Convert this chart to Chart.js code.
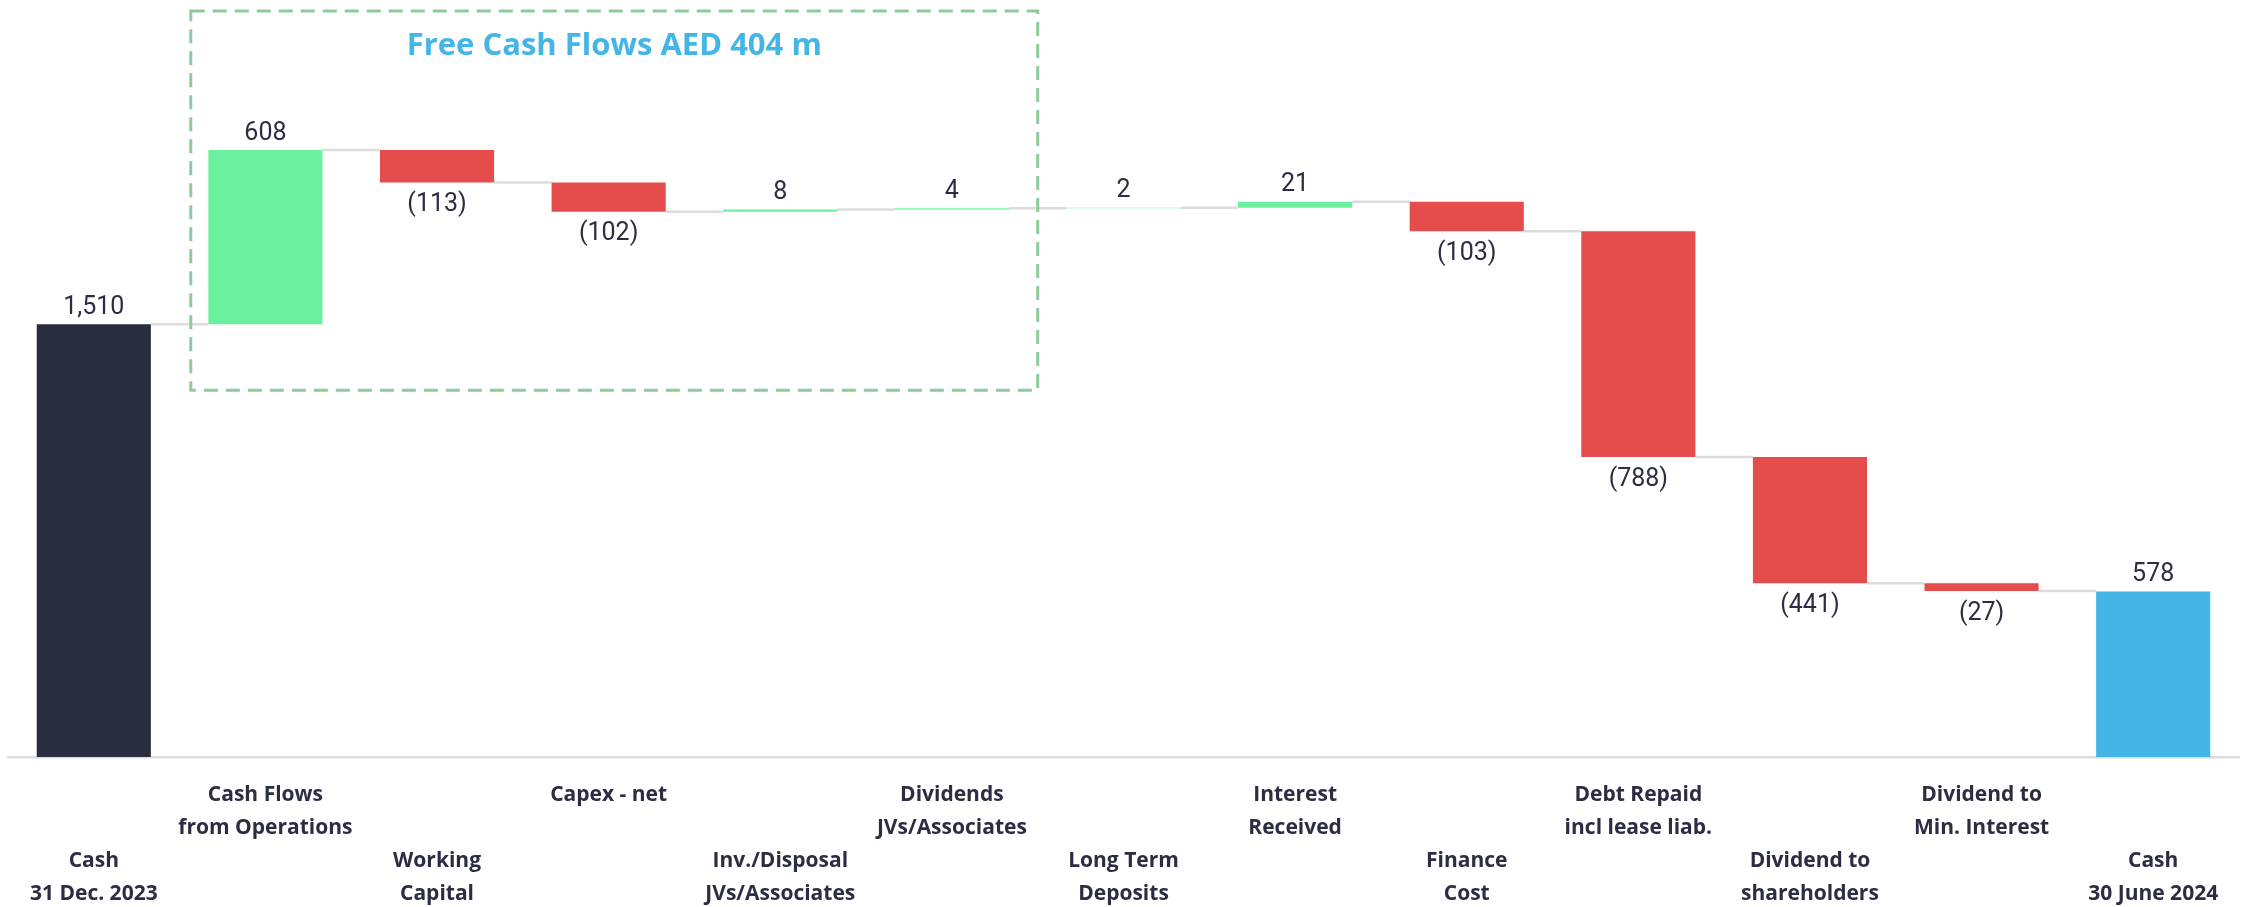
<!DOCTYPE html>
<html>
<head>
<meta charset="utf-8">
<script src="https://cdn.jsdelivr.net/npm/chart.js@4.4.1/dist/chart.umd.min.js"></script>
<style>
  html, body { margin: 0; padding: 0; background: #ffffff; }
  #wrap { width: 2252px; height: 907px; position: relative; }
</style>
</head>
<body>
<div id="wrap"><canvas id="chartCash"></canvas></div>
<script>
// ------------------------------------------------------------
// Cash bridge H1 2024 (AED m) — waterfall
// ------------------------------------------------------------

// Category labels (lines)
const CATEGORIAS = [
    ['Cash', '31 Dec. 2023'],
    ['Cash Flows', 'from Operations'],
    ['Working', 'Capital'],
    ['Capex - net'],
    ['Inv./Disposal', 'JVs/Associates'],
    ['Dividends', 'JVs/Associates'],
    ['Long Term', 'Deposits'],
    ['Interest', 'Received'],
    ['Finance', 'Cost'],
    ['Debt Repaid', 'incl lease liab.'],
    ['Dividend to', 'shareholders'],
    ['Dividend to', 'Min. Interest'],
    ['Cash', '30 June 2024'],
];

// Values: first and last are totals, the rest are movements
const VALORES = [1510, 608, -113, -102, 8, 4, 2, 21, -103, -788, -441, -27, 578];
const ES_TOTAL = [true, false, false, false, false, false, false, false, false, false, false, false, true];

// Free cash flow bracket
const FCF_TITULO = 'Free Cash Flows AED 404 m';
const FCF_DESDE = 1;   // first category inside the box
const FCF_HASTA = 5;   // last category inside the box

const Y_MAX = 2600;

const C = {
    navy: '#2a2d40',
    green: '#6bf09f',
    red: '#e54c4c',
    blue: '#43b5e6',
    text: '#2b2d42',
    line: '#dcdcdc',
    box: '#8ecb9c',
};

const FONT = "Roboto, 'Liberation Sans', sans-serif";
const FONT_BOLD = "'Open Sans', Roboto, sans-serif";

// --- build floating bars ---
let acumulado = 0;
const barras = [];
const colores = [];
const niveles = []; // running level after each bar
VALORES.forEach((v, i) => {
    if (ES_TOTAL[i]) {
        barras.push([0, v]);
        colores.push(i === 0 ? C.navy : C.blue);
        acumulado = v;
    } else {
        barras.push([acumulado, acumulado + v]);
        colores.push(v >= 0 ? C.green : C.red);
        acumulado += v;
    }
    niveles.push(acumulado);
});

// staggered x labels: odd categories on the upper row
const etiquetas = CATEGORIAS.map((l, i) => {
    const lines = l.length === 1 ? [l[0], ''] : l.slice();
    return i % 2 === 1 ? lines.concat(['', '']) : ['', ''].concat(lines);
});

function fmt(v) {
    const s = Math.abs(v).toLocaleString('en-US');
    return v < 0 ? '(' + s + ')' : s;
}

// --- connectors + value labels ---
const waterfallPlugin = {
    id: 'waterfall',
    beforeDatasetsDraw(chart) {
        const ctx = chart.ctx;
        const meta = chart.getDatasetMeta(0);
        ctx.save();
        ctx.strokeStyle = C.line;
        ctx.lineWidth = 2.5;
        for (let i = 0; i < meta.data.length - 1; i++) {
            const a = meta.data[i], b = meta.data[i + 1];
            const y = chart.scales.y.getPixelForValue(niveles[i]);
            ctx.beginPath();
            ctx.moveTo(a.x + a.width / 2, y);
            ctx.lineTo(b.x - b.width / 2, y);
            ctx.stroke();
        }
        ctx.restore();
    },
    afterDatasetsDraw(chart) {
        const ctx = chart.ctx;
        const meta = chart.getDatasetMeta(0);
        const ys = chart.scales.y;
        ctx.save();
        ctx.fillStyle = C.text;
        ctx.font = '25px ' + FONT;
        ctx.textAlign = 'center';
        meta.data.forEach((bar, i) => {
            const v = VALORES[i];
            const [lo, hi] = barras[i];
            if (v >= 0) {
                ctx.textBaseline = 'bottom';
                ctx.fillText(fmt(v), bar.x, ys.getPixelForValue(Math.max(lo, hi)) - 4);
            } else {
                ctx.textBaseline = 'top';
                ctx.fillText(fmt(v), bar.x, ys.getPixelForValue(Math.min(lo, hi)) + 10);
            }
        });

        // FCF dashed bracket
        const xs = chart.scales.x;
        const paso = xs.getPixelForValue(1) - xs.getPixelForValue(0);
        const x0 = xs.getPixelForValue(FCF_DESDE) - paso * 0.435;
        const x1 = xs.getPixelForValue(FCF_HASTA) + paso * 0.5;
        const y0 = ys.getPixelForValue(2600) - 1;
        const y1 = ys.getPixelForValue(1280);
        ctx.strokeStyle = C.box;
        ctx.lineWidth = 3;
        ctx.setLineDash([14, 8]);
        ctx.strokeRect(x0, y0, x1 - x0, y1 - y0);
        ctx.setLineDash([]);
        ctx.fillStyle = C.blue;
        ctx.font = 'bold 31px ' + FONT_BOLD;
        ctx.textBaseline = 'middle';
        ctx.fillText(FCF_TITULO, (x0 + x1) / 2, y0 + 35);
        ctx.restore();
    }
};

new Chart(document.getElementById('chartCash'), {
    type: 'bar',
    data: {
        labels: etiquetas,
        datasets: [{
            data: barras,
            backgroundColor: colores,
            borderWidth: 0,
            barPercentage: 1,
            categoryPercentage: 0.665,
        }]
    },
    options: {
        responsive: true,
        maintainAspectRatio: false,
        animation: false,
        layout: { padding: { top: 12, left: 8, right: 13, bottom: -26 } },
        plugins: {
            legend: { display: false },
            tooltip: { enabled: false },
        },
        scales: {
            x: {
                offset: true,
                grid: { display: false, drawTicks: false },
                border: { display: true, color: C.line, width: 2.5 },
                ticks: {
                    autoSkip: false,
                    maxRotation: 0,
                    minRotation: 0,
                    padding: 22,
                    color: C.text,
                    font: { family: FONT_BOLD, size: 21, weight: 'bold', lineHeight: '33px' },
                }
            },
            y: {
                display: false,
                min: 0,
                max: Y_MAX,
            }
        }
    },
    plugins: [waterfallPlugin]
});
</script>
</body>
</html>
